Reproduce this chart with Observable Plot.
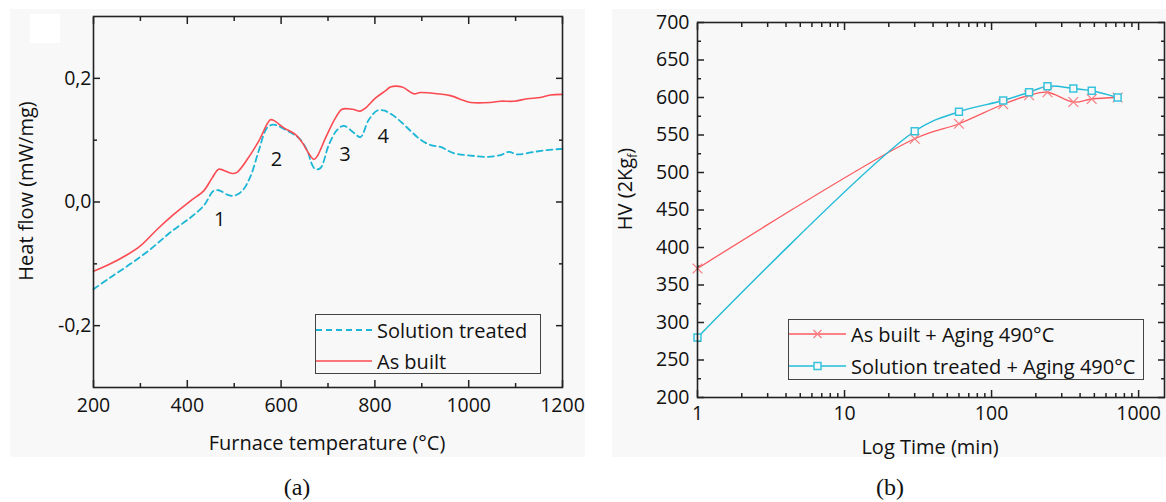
<!DOCTYPE html>
<html>
<head>
<meta charset="utf-8">
<script src="https://cdn.jsdelivr.net/npm/d3@7"></script>
<script src="https://cdn.jsdelivr.net/npm/@observablehq/plot@0.6"></script>
<style>
  body { margin: 0; background: #ffffff; font-family: "Open Sans", sans-serif; color: #111; }
  #wrap { position: relative; width: 1166px; height: 502px; overflow: hidden; background: #fff; }
  .panel { position: absolute; background: #f8f8f8; }
  .panel svg { display: block; }
  .title { position: absolute; font-size: 20px; white-space: nowrap; color: #111; line-height: 1; }
  .rot { transform: translate(-50%, -50%) rotate(-90deg); }
  .hc { transform: translate(-50%, -50%); }
  .legend { position: absolute; border: 1px solid #444; box-sizing: border-box; font-size: 20px; color: #111; }
  .row { position: absolute; left: 0; display: flex; align-items: center; height: 26px; white-space: nowrap; }
  .row svg { display: block; margin-right: 5px; }
  .cap { position: absolute; font-family: "Liberation Serif", "DejaVu Serif", serif; font-size: 24px; transform: translate(-50%, -50%); color: #111; }
  .blank { position: absolute; background: #ffffff; }
</style>
</head>
<body>
<div id="wrap">
  <div class="panel" id="pa" style="left:10px; top:9px; width:575px; height:448px;"></div>
  <div class="panel" id="pb" style="left:612px; top:9px; width:554px; height:448px;"></div>
  <div class="blank" style="left:30px; top:14px; width:30px; height:29px;"></div>
</div>
<script>
// ---------------- DATA: panel (a) DSC ----------------
const tempAsBuilt = [200, 236, 268, 300, 336, 371, 407, 435, 453, 467, 478, 496, 506, 528, 552, 577, 584, 606, 631, 645, 663, 670, 677, 695, 716, 730, 752, 769, 780, 801, 823, 833, 858, 883, 897, 933, 961, 990, 1004, 1046, 1068, 1096, 1125, 1153, 1174, 1200];
const flowAsBuilt = [-0.112, -0.100, -0.087, -0.071, -0.044, -0.020, 0.002, 0.018, 0.039, 0.053, 0.051, 0.046, 0.048, 0.069, 0.098, 0.133, 0.132, 0.120, 0.109, 0.096, 0.074, 0.069, 0.074, 0.104, 0.136, 0.150, 0.150, 0.147, 0.152, 0.168, 0.180, 0.186, 0.186, 0.175, 0.177, 0.175, 0.172, 0.164, 0.161, 0.161, 0.163, 0.163, 0.167, 0.169, 0.173, 0.174];
const tempSolution = [200, 236, 279, 322, 364, 407, 435, 456, 467, 485, 499, 517, 535, 552, 570, 584, 609, 641, 659, 663, 673, 684, 702, 720, 734, 755, 769, 787, 805, 819, 837, 858, 876, 897, 919, 940, 968, 1004, 1039, 1068, 1086, 1103, 1139, 1167, 1200];
const flowSolution = [-0.141, -0.122, -0.100, -0.076, -0.049, -0.025, -0.006, 0.018, 0.019, 0.012, 0.010, 0.018, 0.042, 0.082, 0.120, 0.125, 0.117, 0.101, 0.077, 0.066, 0.053, 0.055, 0.093, 0.117, 0.123, 0.112, 0.105, 0.133, 0.148, 0.148, 0.141, 0.128, 0.115, 0.101, 0.092, 0.089, 0.079, 0.075, 0.073, 0.076, 0.081, 0.077, 0.081, 0.084, 0.086];
const peakLabels = ["1", "2", "3", "4"];
const peakTemp = [469, 590, 736, 818];
const peakFlow = [-0.028, 0.068, 0.076, 0.105];
const tempMajorTicks = [200, 400, 600, 800, 1000, 1200];
const tempMinorTicks = [300, 500, 700, 900, 1100];
const flowMajorTicks = [-0.2, 0.0, 0.2];
const flowMinorTicks = [-0.1, 0.1];
const legendA = ["Solution treated", "As built"];

// ---------------- DATA: panel (b) hardness ----------------
const agingTime = [1, 30, 60, 120, 180, 240, 360, 480, 720];
const hvAsBuilt = [372, 545, 565, 591, 603, 607, 594, 598, 600];
const hvSolution = [280, 555, 581, 596, 607, 615, 612, 609, 600];
const timeMajorTicks = [1, 10, 100, 1000];
const timeMinorTicks = [2, 3, 4, 5, 6, 7, 8, 9, 20, 30, 40, 50, 60, 70, 80, 90, 200, 300, 400, 500, 600, 700, 800, 900];
const hvMajorTicks = [200, 250, 300, 350, 400, 450, 500, 550, 600, 650, 700];
const hvMinorTicks = [225, 275, 325, 375, 425, 475, 525, 575, 625, 675];
const legendB = ["As built + Aging 490°C", "Solution treated + Aging 490°C"];

// colours
const RED = "#fb4b52";
const CYAN = "#1bb6d6";
const RED_B = "#fb5a60";
const RED_MK = "#f77f84";
const CYAN_B = "#22bcd8";
const CYAN_MK = "#38c3dd";

const ab = tempAsBuilt.map((t, i) => ({t, v: flowAsBuilt[i]}));
const st = tempSolution.map((t, i) => ({t, v: flowSolution[i]}));
const peaks = peakLabels.map((l, i) => ({l, t: peakTemp[i], v: peakFlow[i]}));
const commaFmt = d => d.toFixed(1).replace(".", ",");
const blankFmt = () => "";

// inward ticks on all four sides: axis ticks shifted back inside the frame
function frameTicks(xMaj, xMin, yMaj, yMin) {
  const s = {stroke: "#222", strokeWidth: 1.5, label: null, tickFormat: blankFmt};
  const out = [];
  for (const [vals, len] of [[xMaj, 7], [xMin, 4]]) {
    out.push(Plot.axisX(vals, {anchor: "bottom", tickSize: len, dy: -len, ...s}));
    out.push(Plot.axisX(vals, {anchor: "top", tickSize: len, dy: len, ...s}));
  }
  for (const [vals, len] of [[yMaj, 7], [yMin, 4]]) {
    out.push(Plot.axisY(vals, {anchor: "left", tickSize: len, dx: len, ...s}));
    out.push(Plot.axisY(vals, {anchor: "right", tickSize: len, dx: -len, ...s}));
  }
  return out;
}

const plotA = Plot.plot({
  width: 575, height: 448,
  marginLeft: 83, marginRight: 23, marginTop: 7, marginBottom: 70,
  style: {background: "transparent", fontFamily: "Open Sans, sans-serif", fontSize: "19.5px", color: "#111"},
  x: {domain: [200, 1200]},
  y: {domain: [-0.3, 0.3]},
  marks: [
    ...frameTicks(tempMajorTicks, tempMinorTicks, flowMajorTicks, flowMinorTicks),
    Plot.axisX(tempMajorTicks, {anchor: "bottom", tickSize: 0, tickPadding: 11, label: null, tickFormat: d => String(d)}),
    Plot.axisY(flowMajorTicks, {anchor: "left", tickSize: 0, tickPadding: 2, label: null, tickFormat: commaFmt}),
    Plot.line(st, {x: "t", y: "v", stroke: CYAN, strokeWidth: 1.8, strokeDasharray: "6,4", curve: "catmull-rom"}),
    Plot.line(ab, {x: "t", y: "v", stroke: RED, strokeWidth: 1.6, curve: "catmull-rom"}),
    Plot.text(peaks, {x: "t", y: "v", text: "l", fontSize: 20, fill: "#111"}),
    Plot.frame({stroke: "#222", strokeWidth: 1.6})
  ]
});
document.getElementById("pa").appendChild(plotA);

const hb = agingTime.map((t, i) => ({t, v: hvAsBuilt[i]}));
const hs = agingTime.map((t, i) => ({t, v: hvSolution[i]}));

const plotB = Plot.plot({
  width: 554, height: 448,
  marginLeft: 85, marginRight: 2, marginTop: 13, marginBottom: 60,
  style: {background: "transparent", fontFamily: "Open Sans, sans-serif", fontSize: "19.5px", color: "#111"},
  x: {type: "log", domain: [1, 1500]},
  y: {domain: [200, 700]},
  marks: [
    ...frameTicks(timeMajorTicks, timeMinorTicks, hvMajorTicks, hvMinorTicks),
    Plot.axisX(timeMajorTicks, {anchor: "bottom", tickSize: 0, tickPadding: 9, label: null, tickFormat: d => String(d)}),
    Plot.axisY(hvMajorTicks, {anchor: "left", tickSize: 0, tickPadding: 8, label: null, tickFormat: d => String(d)}),
    Plot.line(hb, {x: "t", y: "v", stroke: RED_B, strokeWidth: 1.3, curve: "catmull-rom"}),
    Plot.line(hs, {x: "t", y: "v", stroke: CYAN_B, strokeWidth: 1.5, curve: "catmull-rom"}),
    Plot.dot(hb, {x: "t", y: "v", symbol: "times", r: 4.5, stroke: RED_MK, strokeWidth: 1.3}),
    Plot.dot(hs, {x: "t", y: "v", symbol: "square", r: 3.9, stroke: CYAN_MK, fill: "#f8f8f8", strokeWidth: 1.5}),
    Plot.frame({stroke: "#222", strokeWidth: 1.6})
  ]
});
document.getElementById("pb").appendChild(plotB);

// ---------------- titles, legends, captions ----------------
const wrap = document.getElementById("wrap");
function addDiv(cls, html, style) {
  const d = document.createElement("div");
  d.className = cls;
  d.innerHTML = html;
  Object.assign(d.style, style);
  wrap.appendChild(d);
  return d;
}
addDiv("title hc", "Furnace temperature (°C)", {left: "327px", top: "443px"});
addDiv("title rot", "Heat flow (mW/mg)", {left: "26px", top: "191px"});
addDiv("title hc", "Log Time (min)", {left: "930px", top: "447px"});
addDiv("title rot", "HV (2Kg<sub style='font-size:12px'>f</sub>)", {left: "627px", top: "189px"});

function swatch(color, dash, marker, mcolor, width) {
  let s = `<svg width="${width}" height="16" viewBox="0 0 ${width} 16">`;
  s += `<line x1="0" y1="8" x2="${width}" y2="8" stroke="${color}" stroke-width="${dash ? 1.8 : 1.5}" ${dash ? 'stroke-dasharray="6,4"' : ''}/>`;
  const c = width / 2;
  if (marker === "times") s += `<path d="M${c-4},4L${c+4},12M${c+4},4L${c-4},12" stroke="${mcolor}" stroke-width="1.3" fill="none"/>`;
  if (marker === "square") s += `<rect x="${c-3.5}" y="4.5" width="7" height="7" stroke="${mcolor}" stroke-width="1.5" fill="#f8f8f8"/>`;
  return s + `</svg>`;
}
const legA = addDiv("legend", "", {left: "315px", top: "314px", width: "226px", height: "60px"});
legA.innerHTML =
  `<div class="row" style="top:2px">${swatch(CYAN, true, null, null, 56)}<span>${legendA[0]}</span></div>` +
  `<div class="row" style="top:33px">${swatch(RED, false, null, null, 56)}<span>${legendA[1]}</span></div>`;

const legB = addDiv("legend", "", {left: "788px", top: "319px", width: "356px", height: "61px"});
legB.innerHTML =
  `<div class="row" style="top:1px">${swatch(RED_B, false, "times", RED_MK, 57)}<span>${legendB[0]}</span></div>` +
  `<div class="row" style="top:33px">${swatch(CYAN_B, false, "square", CYAN_MK, 57)}<span>${legendB[1]}</span></div>`;

addDiv("cap", "(a)", {left: "297px", top: "487px"});
addDiv("cap", "(b)", {left: "890px", top: "487px"});
</script>
</body>
</html>
